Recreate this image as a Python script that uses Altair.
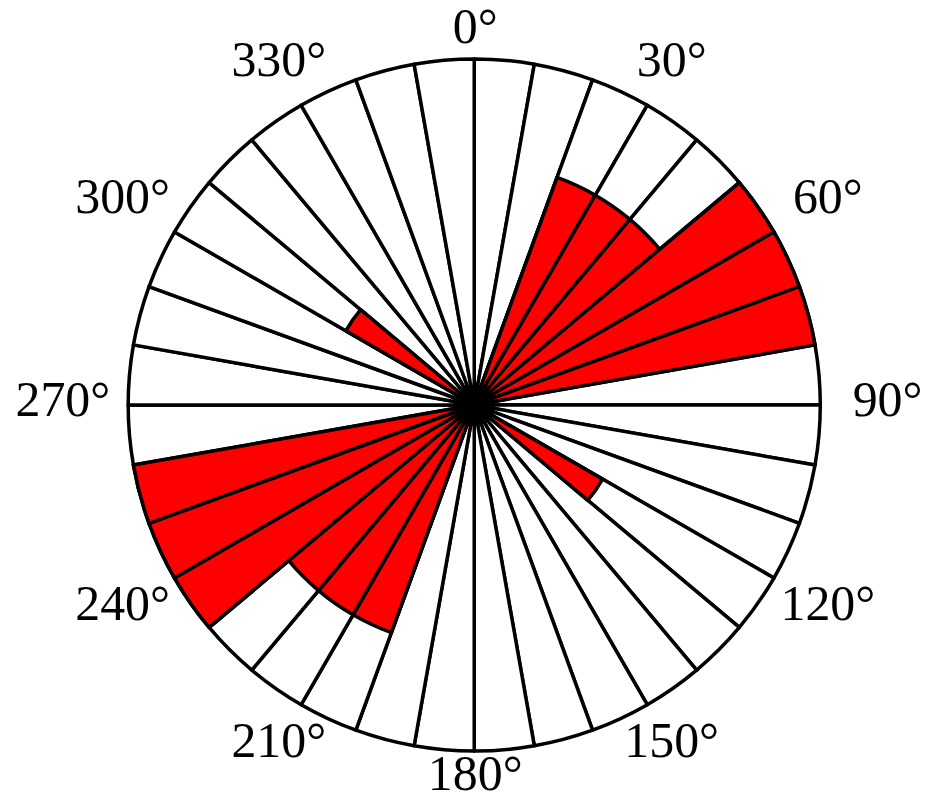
import altair as alt
import pandas as pd

# 36 sectors of 10 degrees, clockwise from north
sector_start = list(range(0, 360, 10))
counts = [0, 0, 4.9, 4.9, 4.9, 7, 7, 7, 0,
          0, 0, 0, 3, 0, 0, 0, 0, 0,
          0, 0, 4.9, 4.9, 4.9, 7, 7, 7, 0,
          0, 0, 0, 3, 0, 0, 0, 0, 0]
max_count = 7

label_angles = [0, 30, 60, 90, 120, 150, 180, 210, 240, 270, 300, 330]
label_text = [f"{a}°" for a in label_angles]

df = pd.DataFrame({
    "start": sector_start,
    "end": [s + 10 for s in sector_start],
    "count": counts,
    "full": [max_count] * len(sector_start),
})
lab = pd.DataFrame({"angle": label_angles, "label": label_text})

R = 347
theta_scale = alt.Scale(domain=[0, 360], range=[0, 6.283185307179586])
r_scale = alt.Scale(type="linear", domain=[0, max_count], range=[0, R], zero=True, nice=False)

SW = 3.5

white = alt.Chart(df).mark_arc(
    fill="white", stroke="black", strokeWidth=SW, strokeJoin="round"
).encode(
    theta=alt.Theta("start:Q", scale=theta_scale, stack=False),
    theta2="end:Q",
    radius=alt.Radius("full:Q", scale=r_scale),
)

red = alt.Chart(df).transform_filter("datum.count > 0").mark_arc(
    fill="#ff0000", stroke="black", strokeWidth=SW, strokeJoin="round"
).encode(
    theta=alt.Theta("start:Q", scale=theta_scale, stack=False),
    theta2="end:Q",
    radius=alt.Radius("count:Q", scale=r_scale),
)

labels = alt.Chart(lab).transform_calculate(
    lr=f"(374.5 + 39*abs(sin(datum.angle*PI/180))) / {R} * {max_count}"
).mark_text(
    font="Liberation Serif", fontSize=50, align="center", baseline="middle",
    dx=1, dy=-3.5, color="black"
).encode(
    theta=alt.Theta("angle:Q", scale=theta_scale, stack=False),
    radius=alt.Radius("lr:Q", scale=r_scale),
    text="label:N",
)

chart = alt.layer(white, red, labels).properties(
    width=900, height=776,
    padding={"left": 17.5, "top": 9, "right": 0, "bottom": 4},
    autosize=alt.AutoSizeParams(type="none"),
).configure_view(stroke=None)

chart.save("out.html", embed_options={"renderer": "svg", "actions": False})
